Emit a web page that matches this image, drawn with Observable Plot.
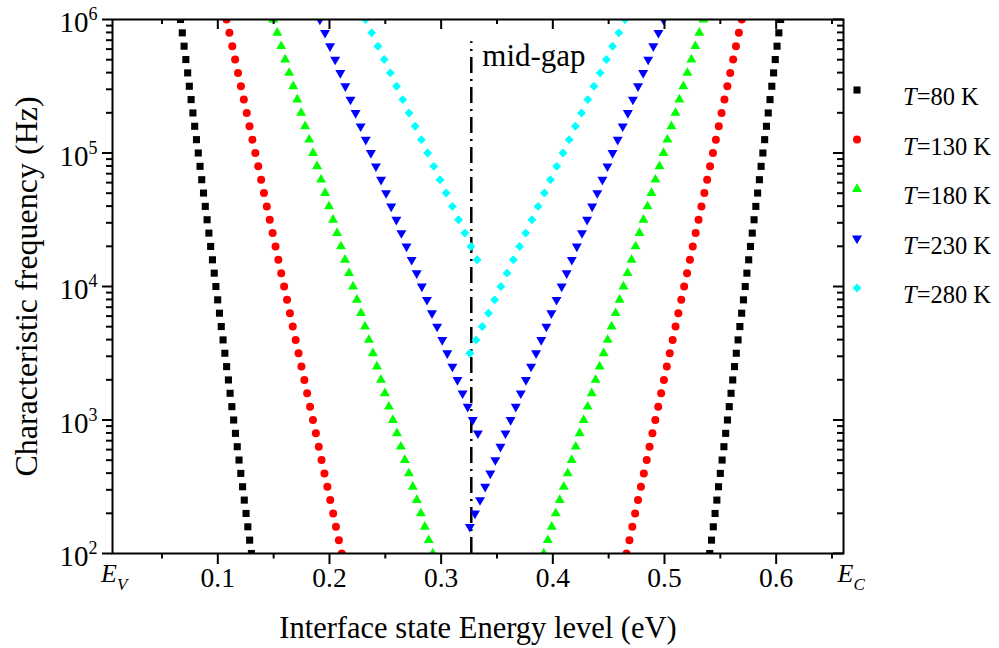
<!DOCTYPE html>
<html>
<head>
<meta charset="utf-8">
<script src="https://cdn.jsdelivr.net/npm/d3@7"></script>
<script src="https://cdn.jsdelivr.net/npm/@observablehq/plot@0.6"></script>
<style>
html, body { margin: 0; padding: 0; background: #fff; }
#wrap { position: relative; width: 999px; height: 648px; }
#wrap svg { display: block; }
#legend { position: absolute; left: 0; top: 0; pointer-events: none; }
</style>
</head>
<body>
<div id="wrap"></div>
<script>
// log10 of characteristic frequency (Hz) for each plotted point
const logFreq = [2.0,2.1,2.2,2.3,2.4,2.5,2.6,2.7,2.8,2.9,3.0,3.1,3.2,3.3,3.4,3.5,3.6,3.7,3.8,3.9,4.0,4.1,4.2,4.3,4.4,4.5,4.6,4.7,4.8,4.9,5.0,5.1,5.2,5.3,5.4,5.5,5.6,5.7,5.8,5.9,6.0];

// Interface state energy (eV) at each frequency; L = valence-side branch, R = conduction-side branch
const E80L = [0.1301,0.1285,0.1269,0.1253,0.1237,0.1222,0.1206,0.1190,0.1174,0.1158,0.1142,0.1126,0.1110,0.1095,0.1079,0.1063,0.1047,0.1031,0.1015,0.0999,0.0983,0.0968,0.0952,0.0936,0.0920,0.0904,0.0888,0.0872,0.0856,0.0841,0.0825,0.0809,0.0793,0.0777,0.0761,0.0745,0.0730,0.0714,0.0698,0.0682,0.0666];
const E80R = [0.5405,0.5421,0.5437,0.5453,0.5469,0.5484,0.5500,0.5516,0.5532,0.5548,0.5564,0.5580,0.5596,0.5611,0.5627,0.5643,0.5659,0.5675,0.5691,0.5707,0.5723,0.5738,0.5754,0.5770,0.5786,0.5802,0.5818,0.5834,0.5850,0.5865,0.5881,0.5897,0.5913,0.5929,0.5945,0.5961,0.5977,0.5992,0.6008,0.6024,0.6040];
const E130L = [0.2110,0.2084,0.2058,0.2033,0.2007,0.1981,0.1955,0.1929,0.1904,0.1878,0.1852,0.1826,0.1800,0.1775,0.1749,0.1723,0.1697,0.1671,0.1646,0.1620,0.1594,0.1568,0.1542,0.1517,0.1491,0.1465,0.1439,0.1413,0.1388,0.1362,0.1336,0.1310,0.1284,0.1259,0.1233,0.1207,0.1181,0.1155,0.1130,0.1104,0.1078];
const E130R = [0.4660,0.4686,0.4712,0.4737,0.4763,0.4789,0.4815,0.4841,0.4866,0.4892,0.4918,0.4944,0.4970,0.4995,0.5021,0.5047,0.5073,0.5099,0.5124,0.5150,0.5176,0.5202,0.5228,0.5253,0.5279,0.5305,0.5331,0.5357,0.5382,0.5408,0.5434,0.5460,0.5486,0.5511,0.5537,0.5563,0.5589,0.5615,0.5640,0.5666,0.5692];
const E180L = [0.2925,0.2889,0.2854,0.2818,0.2782,0.2746,0.2711,0.2675,0.2639,0.2604,0.2568,0.2532,0.2496,0.2461,0.2425,0.2389,0.2353,0.2318,0.2282,0.2246,0.2211,0.2175,0.2139,0.2103,0.2068,0.2032,0.1996,0.1961,0.1925,0.1889,0.1853,0.1818,0.1782,0.1746,0.1711,0.1675,0.1639,0.1603,0.1568,0.1532,0.1496];
const E180R = [0.3919,0.3955,0.3990,0.4026,0.4062,0.4098,0.4133,0.4169,0.4205,0.4240,0.4276,0.4312,0.4348,0.4383,0.4419,0.4455,0.4491,0.4526,0.4562,0.4598,0.4633,0.4669,0.4705,0.4741,0.4776,0.4812,0.4848,0.4883,0.4919,0.4955,0.4991,0.5026,0.5062,0.5098,0.5133,0.5169,0.5205,0.5241,0.5276,0.5312,0.5348];
const E230L = [null,null,null,null,null,null,null,null,null,0.3329,0.3283,0.3238,0.3192,0.3146,0.3101,0.3055,0.3010,0.2964,0.2918,0.2873,0.2827,0.2781,0.2736,0.2690,0.2644,0.2599,0.2553,0.2507,0.2462,0.2416,0.2371,0.2325,0.2279,0.2234,0.2188,0.2142,0.2097,0.2051,0.2005,0.1960,0.1914];
const E230R = [null,null,0.3257,0.3303,0.3348,0.3394,0.3440,0.3485,0.3531,0.3576,0.3622,0.3668,0.3713,0.3759,0.3805,0.3850,0.3896,0.3942,0.3987,0.4033,0.4079,0.4124,0.4170,0.4215,0.4261,0.4307,0.4352,0.4398,0.4444,0.4489,0.4535,0.4581,0.4626,0.4672,0.4717,0.4763,0.4809,0.4854,0.4900,0.4946,0.4991];
const E280L = [null,null,null,null,null,null,null,null,null,null,null,null,null,null,null,null,null,null,null,null,null,null,0.3323,0.3267,0.3212,0.3156,0.3101,0.3045,0.2990,0.2934,0.2879,0.2823,0.2767,0.2712,0.2656,0.2601,0.2545,0.2490,0.2434,0.2378,0.2323];
const E280R = [null,null,null,null,null,null,null,null,null,null,null,null,null,null,null,0.3257,0.3313,0.3368,0.3424,0.3479,0.3535,0.3590,0.3646,0.3702,0.3757,0.3813,0.3868,0.3924,0.3979,0.4035,0.4091,0.4146,0.4202,0.4257,0.4313,0.4368,0.4424,0.4480,0.4535,0.4591,0.4646];

const temps = [80, 130, 180, 230, 280];
const branches = [[E80L, E80R], [E130L, E130R], [E180L, E180R], [E230L, E230R], [E280L, E280R]];
const colors = ["#000000", "#ff0000", "#00ff00", "#0000ff", "#00ffff"];

// axis ticks
const xMajor = [0.1, 0.2, 0.3, 0.4, 0.5, 0.6];
const xMinor = [0.05, 0.15, 0.25, 0.35, 0.45, 0.55, 0.65];
const yMajor = [1e2, 1e3, 1e4, 1e5, 1e6];
const yMinor = [200,300,400,500,600,700,800,900,2000,3000,4000,5000,6000,7000,8000,9000,2e4,3e4,4e4,5e4,6e4,7e4,8e4,9e4,2e5,3e5,4e5,5e5,6e5,7e5,8e5,9e5];
const xDomain = [0.0057, 0.6603];
const yDomain = [1e2, 1e6];

// annotations
const bandEdges = [{label: "E_V", E: 0}, {label: "E_C", E: 0.66}];
const midGap = {E: 0.327, f1: 1e2, f2: 6.8e5, label: "mid-gap", fLabel: 5.36e5};
const xTitle = "Interface state Energy level (eV)";
const yTitle = "Characteristic frequency (Hz)";

// symbols
const triangleDown = {
  draw(ctx, size) {
    const y = -Math.sqrt(size / (Math.sqrt(3) * 3));
    ctx.moveTo(0, -y * 2);
    ctx.lineTo(-Math.sqrt(3) * y, y);
    ctx.lineTo(Math.sqrt(3) * y, y);
    ctx.closePath();
  }
};
const symbols = ["square", "circle", "triangle", triangleDown, "diamond2"];
const d3Symbols = [d3.symbolSquare, d3.symbolCircle, d3.symbolTriangle, triangleDown, d3.symbolDiamond2];
const radii = [4, 4, 3.7, 3.7, 4];

const rows = [];
temps.forEach((T, k) => branches[k].forEach(arr => arr.forEach((e, i) => {
  if (e != null) rows.push({T, k, E: e, f: Math.pow(10, logFreq[i])});
})));

const W = 999, H = 648, ML = 112, MR = 156, MT = 19, MB = 95;
const PW = W - ML - MR, PH = H - MT - MB;
const FONT = '"Liberation Serif", "Times New Roman", serif';

const chart = Plot.plot({
  width: W, height: H,
  marginLeft: ML, marginRight: MR, marginTop: MT, marginBottom: MB,
  x: {domain: xDomain, axis: null},
  y: {type: "log", domain: yDomain, axis: null},
  style: {fontFamily: FONT, color: "black", background: "white", overflow: "visible"},
  marks: [
    // mid-gap line
    Plot.ruleX([midGap], {x: "E", y1: "f1", y2: "f2", stroke: "black", strokeWidth: 2.5, strokeDasharray: "16,6,2,6"}),
    Plot.text([midGap], {x: "E", y: "fLabel", text: "label", textAnchor: "start", dx: 11, fontSize: 31, fill: "black"}),
    // data
    ...temps.map((T, k) => Plot.dot(rows.filter(d => d.k === k), {
      x: "E", y: "f", symbol: symbols[k], r: radii[k], fill: colors[k], stroke: "none", clip: true
    })),
    // frame
    Plot.frame({stroke: "black", strokeWidth: 2}),
    // bottom ticks (outward)
    Plot.tickX(xMajor, {x: d => d, insetTop: PH, insetBottom: -11, strokeWidth: 2}),
    Plot.tickX(xMinor, {x: d => d, insetTop: PH, insetBottom: -5.5, strokeWidth: 2}),
    // top ticks (inward)
    Plot.tickX(xMajor, {x: d => d, insetTop: 0, insetBottom: PH - 10, strokeWidth: 2}),
    Plot.tickX(xMinor, {x: d => d, insetTop: 0, insetBottom: PH - 5, strokeWidth: 2}),
    // left ticks (outward)
    Plot.tickY(yMajor, {y: d => d, insetLeft: -10, insetRight: PW, strokeWidth: 2}),
    Plot.tickY(yMinor, {y: d => d, insetLeft: -6, insetRight: PW, strokeWidth: 2}),
    // right ticks (inward)
    Plot.tickY(yMajor, {y: d => d, insetLeft: PW - 10, insetRight: 0, strokeWidth: 2}),
    Plot.tickY(yMinor, {y: d => d, insetLeft: PW - 6, insetRight: 0, strokeWidth: 2}),
    // tick labels
    Plot.text(xMajor, {x: d => d, frameAnchor: "bottom", dy: 33, text: d => d.toFixed(1), fontSize: 27.5, fill: "black"}),
    Plot.text(yMajor, {y: d => d, frameAnchor: "left", textAnchor: "end", dx: -15, dy: 3.7, text: d => "10^" + Math.round(Math.log10(d)), fontSize: 29, fill: "black"}),
    Plot.text(bandEdges, {x: "E", frameAnchor: "bottom", textAnchor: "middle", dx: 8, dy: 28, text: "label", fontSize: 26, fill: "black"}),
    // axis titles
    Plot.text([xTitle], {frameAnchor: "bottom", textAnchor: "middle", dy: 84, fontSize: 30.5, fill: "black"}),
    Plot.text([yTitle], {frameAnchor: "left", textAnchor: "middle", rotate: -90, dx: -86, fontSize: 32, fill: "black"})
  ]
});

// superscripts / subscripts
const NS = "http://www.w3.org/2000/svg";
chart.querySelectorAll("text").forEach(t => {
  const s = t.textContent;
  let m;
  if ((m = s.match(/^10\^(\d+)$/))) {
    t.textContent = "";
    const a = document.createElementNS(NS, "tspan"); a.textContent = "10"; t.appendChild(a);
    const b = document.createElementNS(NS, "tspan"); b.textContent = m[1];
    b.setAttribute("font-size", "18"); b.setAttribute("dy", "-12"); t.appendChild(b);
  } else if ((m = s.match(/^E_(\w)$/))) {
    t.textContent = "";
    const a = document.createElementNS(NS, "tspan"); a.textContent = "E"; a.setAttribute("font-style", "italic"); t.appendChild(a);
    const b = document.createElementNS(NS, "tspan"); b.textContent = m[1];
    b.setAttribute("font-style", "italic"); b.setAttribute("font-size", "17"); b.setAttribute("dy", "8"); t.appendChild(b);
  }
});

const wrap = document.getElementById("wrap");
wrap.appendChild(chart);

// legend overlay
const leg = d3.select(wrap).append("svg").attr("id", "legend").attr("width", W).attr("height", H)
  .style("font-family", FONT);
temps.forEach((T, k) => {
  const cy = 90 + 49.5 * k;
  leg.append("path")
    .attr("transform", `translate(857,${cy})`)
    .attr("d", d3.symbol(d3Symbols[k], Math.PI * radii[k] * radii[k])())
    .attr("fill", colors[k]);
  const t = leg.append("text").attr("x", 903).attr("y", cy + 15).attr("font-size", 24.5).attr("fill", "black");
  t.append("tspan").attr("font-style", "italic").text("T");
  t.append("tspan").text(`=${T} K`);
});
</script>
</body>
</html>
